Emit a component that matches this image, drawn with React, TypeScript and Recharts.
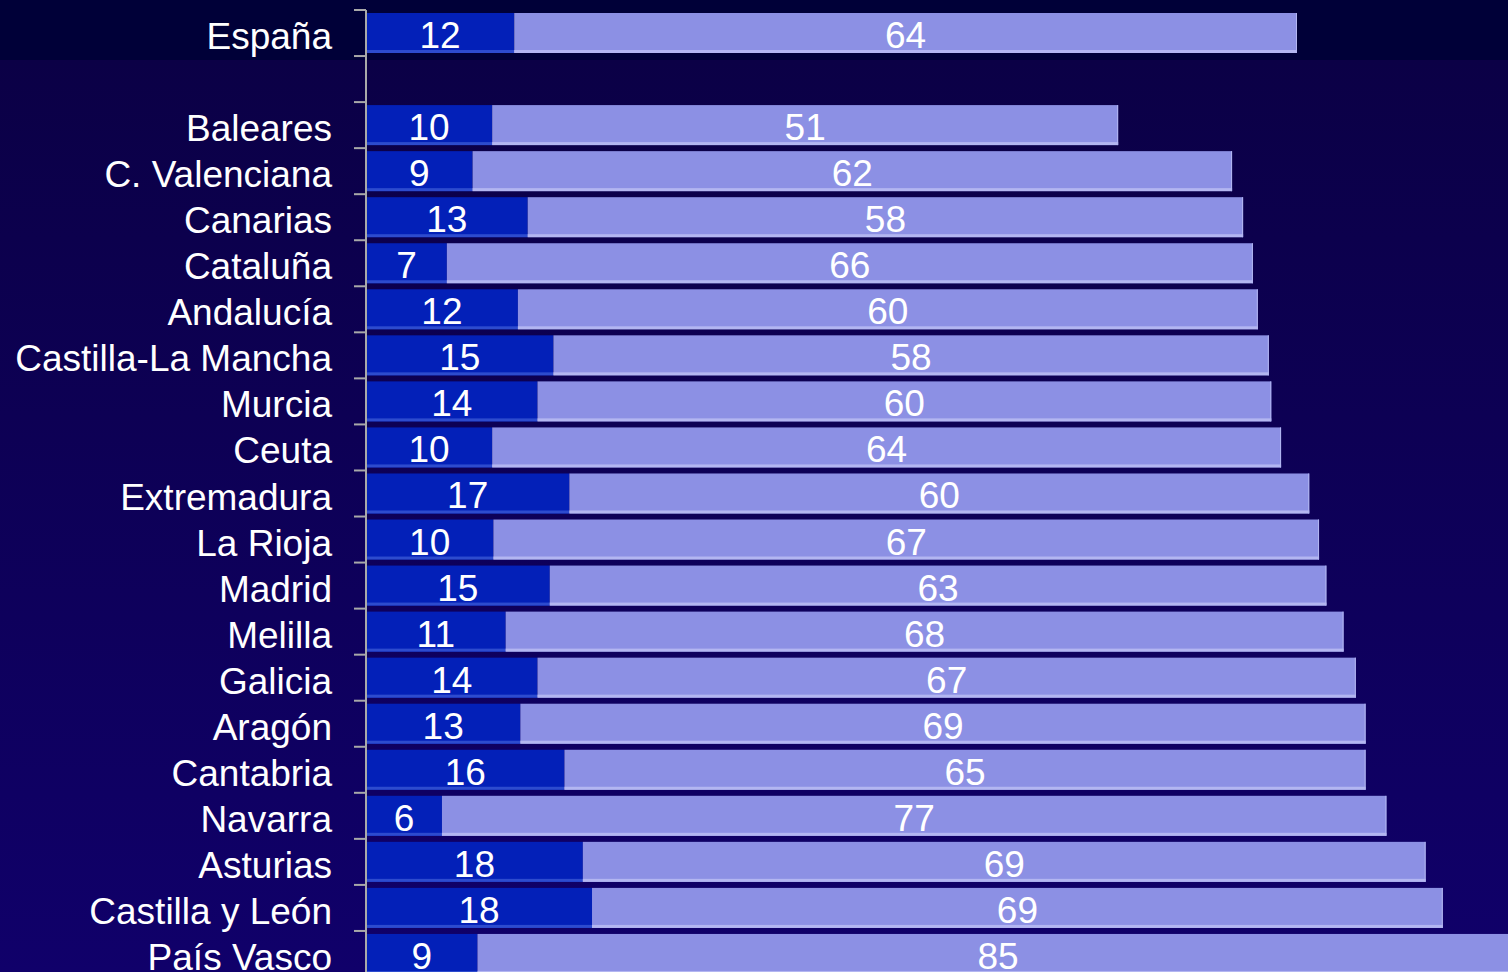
import { BarChart, Bar, XAxis, YAxis, LabelList } from 'recharts'

// regions, with an empty spacer row after the national figure
const regions = [
  'España', '', 'Baleares', 'C. Valenciana', 'Canarias', 'Cataluña', 'Andalucía',
  'Castilla-La Mancha', 'Murcia', 'Ceuta', 'Extremadura', 'La Rioja', 'Madrid',
  'Melilla', 'Galicia', 'Aragón', 'Cantabria', 'Navarra', 'Asturias',
  'Castilla y León', 'País Vasco',
]
// values; labels show them rounded
const firstValues = [
  12.1, null, 10.3, 8.7, 13.2, 6.6, 12.4, 15.3, 14.0, 10.3, 16.6, 10.4, 15.0,
  11.4, 14.0, 12.6, 16.2, 6.2, 17.7, 18.45, 9.1,
]
const secondValues = [
  63.9, null, 51.1, 62.0, 58.4, 65.8, 60.4, 58.4, 59.9, 64.4, 60.4, 67.4, 63.4,
  68.4, 66.8, 69.0, 65.4, 77.1, 68.8, 69.45, 85.0,
]

const data = regions.map((name, i) => ({ name, first: firstValues[i], second: secondValues[i] }))

const FONT = '"Liberation Sans", Arial, sans-serif'
const TOP = 10
const PLOT_H = 967
const BAND = PLOT_H / regions.length
const AXIS_GRAY = '#a9a9a9'

function RegionTick(props: any) {
  const { x, y, payload } = props
  const top = y - BAND / 2
  return (
    <g>
      <line x1={x + 22} x2={x + 34} y1={top} y2={top} stroke={AXIS_GRAY} strokeWidth={2} />
      {payload.value ? (
        <text x={x} y={y + 16} textAnchor="end" fill="#ffffff" fontSize={37} fontFamily={FONT}>
          {payload.value}
        </text>
      ) : null}
    </g>
  )
}

const bevelBar = (edge: string, rightEdge: boolean) => (props: any) => {
  const { x, y, width, height, fill } = props
  if (!width || width <= 0) return <g />
  return (
    <g>
      <rect x={x} y={y} width={width} height={height} fill={fill} />
      <rect x={x} y={y + height - 3} width={width} height={3} fill={edge} />
      {rightEdge ? <rect x={x + width - 1} y={y} width={1} height={height} fill={edge} /> : null}
    </g>
  )
}

function ValueLabel(props: any) {
  const { x, y, width, height, value } = props
  if (value == null) return null
  return (
    <text x={x + width / 2} y={y + height / 2 + 15} textAnchor="middle" fill="#ffffff" fontSize={37} fontFamily={FONT}>
      {Math.round(Number(value))}
    </text>
  )
}

export default function App() {
  return (
    <div
      style={{
        position: 'absolute', top: 0, left: 0, width: 1508, height: 972, overflow: 'hidden',
        background: 'linear-gradient(to bottom, #000038 0px, #000038 60px, #0b0046 60px, #10006a 972px)',
      }}
    >
      <BarChart
        width={1591}
        height={TOP + PLOT_H + 3}
        data={data}
        layout="vertical"
        margin={{ top: TOP, right: 0, bottom: 3, left: 0 }}
      >
        <XAxis type="number" domain={[0, 100]} hide />
        <YAxis
          type="category"
          dataKey="name"
          width={366}
          axisLine={{ stroke: AXIS_GRAY, strokeWidth: 2 }}
          tickLine={false}
          tickSize={12}
          tickMargin={22}
          interval={0}
          tick={<RegionTick />}
        />
        <Bar dataKey="first" stackId="a" fill="#0320b8" barSize={40} isAnimationActive={false} shape={bevelBar('#2d4bce', false)}>
          <LabelList dataKey="first" content={<ValueLabel />} />
        </Bar>
        <Bar dataKey="second" stackId="a" fill="#8c90e4" barSize={40} isAnimationActive={false} shape={bevelBar('#b3b6f1', true)}>
          <LabelList dataKey="second" content={<ValueLabel />} />
        </Bar>
      </BarChart>
    </div>
  )
}
